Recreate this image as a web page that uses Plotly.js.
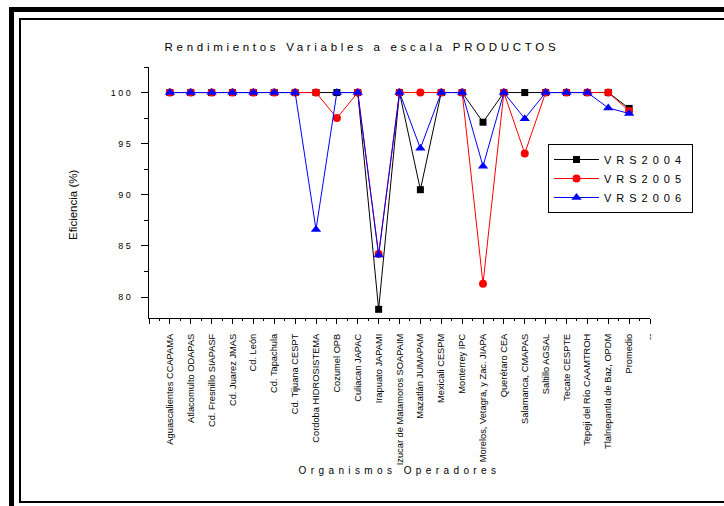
<!DOCTYPE html>
<html>
<head>
<meta charset="utf-8">
<script src="https://cdn.plot.ly/plotly-3.0.1.min.js"></script>
<style>
  html, body { margin:0; padding:0; background:#fff; }
  body { width:724px; height:506px; overflow:hidden; position:relative; }
  #outer { position:absolute; left:9px; top:7px; width:900px; height:700px; border:5px solid #000; }
  #inner { position:absolute; left:19px; top:18px; width:900px; height:485px; box-sizing:border-box; border:2px solid #000; }
  #chart { position:absolute; left:0; top:0; width:724px; height:506px; }
  .gtitle { letter-spacing:3.7px; }
  .xtitle { letter-spacing:4.4px; }
  .ytick text { letter-spacing:2.5px; }
  .legendtext { letter-spacing:5px; }
</style>
</head>
<body>
<div id="outer"></div>
<div id="inner"></div>
<div id="chart"></div>
<script>
const categories = [
  "Aguascalientes CCAPAMA", "Atlacomulto ODAPAS", "Cd. Fresnillo SIAPASF", "Cd. Juarez JMAS",
  "Cd. León", "Cd. Tapachula", "Cd. Tijuana CESPT", "Cordoba HIDROSISTEMA", "Cozumel OPB",
  "Culiacan JAPAC", "Irapuato JAPAMI", "Izucar de Matamoros SOAPAIM", "Mazatlán JUMAPAM",
  "Mexicali CESPM", "Monterrey IPC", "Morelos, Vetagra, y Zac. JIAPA", "Querétaro CEA",
  "Salamanca, CMAPAS", "Saltillo AGSAL", "Tecate CESPTE", "Tepeji del Río CAAMTROH",
  "Tlalnepantla de Baz, OPDM", "Promedio"
];
const extraLabel = "--";
const vrs2004 = [100,100,100,100,100,100,100,100,100,100,78.8,100,90.5,100,100,97.1,100,100,100,100,100,100,98.45];
const vrs2005 = [100,100,100,100,100,100,100,100,97.5,100,84.2,100,100,100,100,81.3,100,94.05,100,100,100,100,98.2];
const vrs2006 = [100,100,100,100,100,100,100,86.6,100,100,84.1,100,94.55,100,100,92.8,100,97.45,100,100,100,98.5,97.95];
const seriesNames = ["VRS2004", "VRS2005", "VRS2006"];
const yTickVals = [80, 85, 90, 95, 100];

const xs = categories.map((c, i) => i + 1);
const tickVals = [0].concat(xs, [categories.length + 1]);
const tickText = [""].concat(categories, [extraLabel]);

const font = "'Liberation Sans', Arial, sans-serif";

const traces = [
  { x: xs, y: vrs2004, name: seriesNames[0], mode: "lines+markers", type: "scatter",
    line: { color: "#000000", width: 1 }, marker: { symbol: "square", size: 7, color: "#000000" } },
  { x: xs, y: vrs2005, name: seriesNames[1], mode: "lines+markers", type: "scatter",
    line: { color: "#ff0000", width: 1 }, marker: { symbol: "circle", size: 8, color: "#ff0000" } },
  { x: xs, y: vrs2006, name: seriesNames[2], mode: "lines+markers", type: "scatter",
    line: { color: "#0000ff", width: 1 }, marker: { symbol: "triangle-up", size: 9, color: "#0000ff" } }
];

const layout = {
  width: 724, height: 506,
  margin: { l: 149, r: 74, t: 67, b: 188, pad: 0 },
  paper_bgcolor: "rgba(0,0,0,0)", plot_bgcolor: "rgba(0,0,0,0)",
  font: { family: font, color: "#000" },
  showlegend: true,
  title: { text: "Rendimientos Variables a escala PRODUCTOS", font: { family: font, size: 11.5, color: "#000" },
           x: 0.5, xref: "container", xanchor: "center", y: 1 - 47/506, yref: "container", yanchor: "middle" },
  xaxis: {
    range: [0, categories.length + 1], tickmode: "array", tickvals: tickVals, ticktext: tickText,
    tickangle: -90, ticks: "outside", ticklen: 5, tickwidth: 1, tickcolor: "#000",
    ticklabelstandoff: 6,
    showline: true, linecolor: "#000", linewidth: 1, showgrid: false, zeroline: false,
    tickfont: { family: font, size: 9.3, color: "#000" },
    minor: { tickmode: "linear", tick0: 0.5, dtick: 1, ticks: "outside", ticklen: 2, tickcolor: "#000", showgrid: false },
    title: { text: "Organismos Operadores", font: { family: font, size: 10, color: "#000" }, standoff: 1 },
    fixedrange: true
  },
  yaxis: {
    range: [77.95, 102.5], tickmode: "array", tickvals: yTickVals,
    ticks: "outside", ticklen: 7, tickwidth: 1, tickcolor: "#000", ticklabelstandoff: 6,
    showline: true, linecolor: "#000", linewidth: 1, showgrid: false, zeroline: false,
    tickfont: { family: font, size: 9, color: "#000" },
    minor: { tickmode: "linear", tick0: 77.5, dtick: 2.5, ticks: "outside", ticklen: 4, tickcolor: "#000", showgrid: false },
    fixedrange: true
  },
  annotations: [
    { text: "Eficiencia (%)", xref: "paper", yref: "paper", x: (73 - 149) / 501, y: (318 - 205) / 251,
      textangle: -90, showarrow: false, xanchor: "center", yanchor: "middle",
      font: { family: font, size: 11.5, color: "#000" } }
  ],
  legend: {
    x: (548 - 149) / 501, y: (318 - 178.5) / 251, xanchor: "left", yanchor: "middle",
    bgcolor: "rgba(255,255,255,1)", bordercolor: "#000", borderwidth: 1,
    font: { family: font, size: 11, color: "#000" }, itemwidth: 45, traceorder: "normal"
  }
};

Plotly.newPlot("chart", traces, layout, { displayModeBar: false, staticPlot: true });
</script>
</body>
</html>
